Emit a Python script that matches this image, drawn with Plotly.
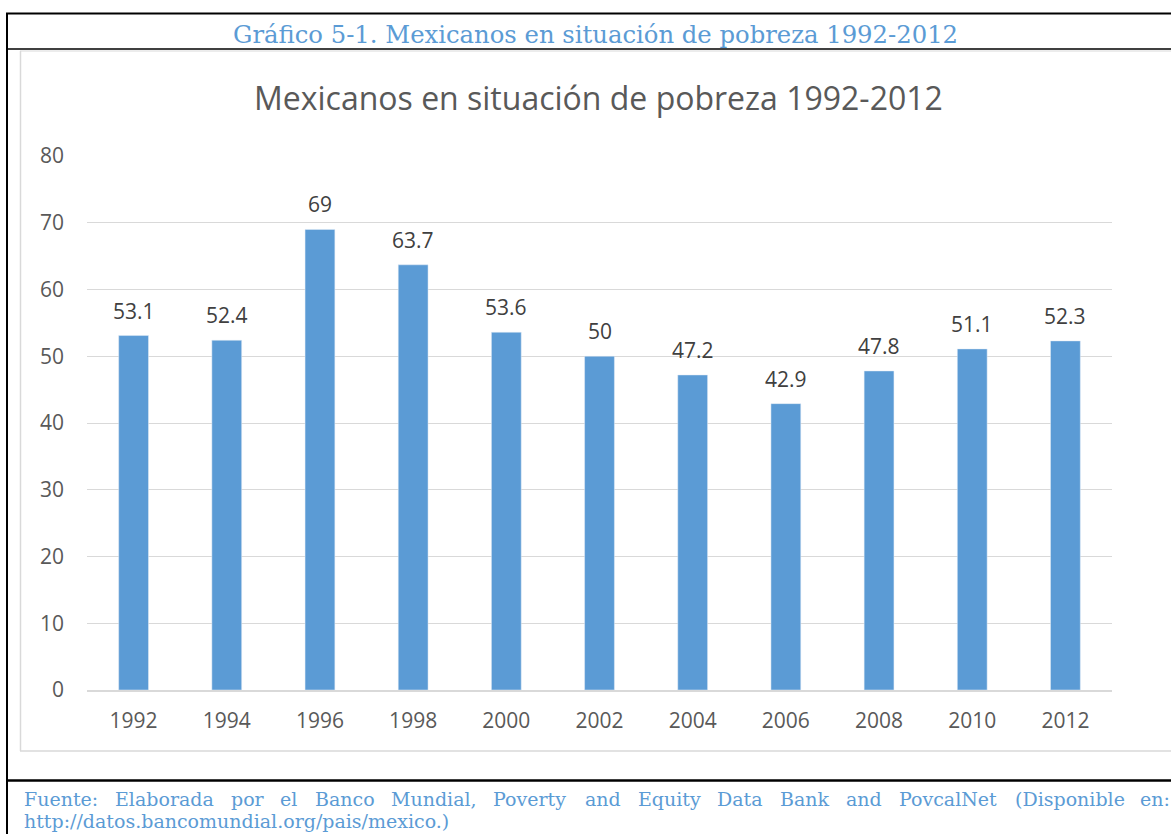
import plotly.graph_objects as go

# datos
anios = ["1992", "1994", "1996", "1998", "2000", "2002", "2004", "2006", "2008", "2010", "2012"]
pobreza = [53.1, 52.4, 69, 63.7, 53.6, 50, 47.2, 42.9, 47.8, 51.1, 52.3]
etiquetas = ["53.1", "52.4", "69", "63.7", "53.6", "50", "47.2", "42.9", "47.8", "51.1", "52.3"]

titulo = "Mexicanos en situación de pobreza 1992-2012"
leyenda = "Gráfico 5-1. Mexicanos en situación de pobreza 1992-2012"
fuente_1 = ["Fuente:", "Elaborada", "por", "el", "Banco", "Mundial,", "Poverty", "and",
            "Equity", "Data", "Bank", "and", "PovcalNet", "(Disponible", "en:"]
fuente_2 = "http://datos.bancomundial.org/pais/mexico.)"

# justified first line of the source note: word start positions (page px)
fuente_1_x = [22, 113, 229, 278, 313, 389, 491, 583, 636, 715, 778, 844, 897, 1013, 1138]

W, H = 1171, 834
L, R, T, B = 87, 1112, 156, 690  # plot area, page pixels

def fx(px):
    return (px - L) / (R - L)

def fy(py):
    return (B - py) / (B - T)

azul = "#5B9BD5"
gris = "#D9D9D9"

fig = go.Figure()
fig.add_trace(go.Bar(x=anios, y=pobreza, marker_color=azul, hoverinfo="x+y"))

anns = []
for i, (v, t) in enumerate(zip(pobreza, etiquetas)):
    anns.append(dict(x=i, y=v, text=t, showarrow=False, yanchor="bottom", yshift=9,
                     font=dict(family="Open Sans", size=21, color="#404040")))

anns.append(dict(xref="paper", yref="paper", x=fx(595), y=fy(34), text=leyenda,
                 showarrow=False, xanchor="center", yanchor="middle",
                 font=dict(family="DejaVu Serif", size=24.3, color=azul)))
anns.append(dict(xref="paper", yref="paper", x=fx(598), y=fy(97), text=titulo,
                 showarrow=False, xanchor="center", yanchor="middle",
                 font=dict(family="Open Sans", size=32, color="#595959")))
for w, x in zip(fuente_1, fuente_1_x):
    anns.append(dict(xref="paper", yref="paper", x=fx(x), y=fy(799), text=w,
                     showarrow=False, xanchor="left", yanchor="middle",
                     font=dict(family="DejaVu Serif", size=19, color=azul)))
anns.append(dict(xref="paper", yref="paper", x=fx(22), y=fy(821), text=fuente_2,
                 showarrow=False, xanchor="left", yanchor="middle",
                 font=dict(family="DejaVu Serif", size=19, color=azul)))

shapes = [
    # marco exterior
    dict(type="line", xref="paper", yref="paper", x0=fx(6), x1=fx(W + 5), y0=fy(13.5), y1=fy(13.5),
         line=dict(color="black", width=2)),
    dict(type="line", xref="paper", yref="paper", x0=fx(7), x1=fx(7), y0=fy(13), y1=fy(H + 5),
         line=dict(color="black", width=2)),
    dict(type="line", xref="paper", yref="paper", x0=fx(7), x1=fx(W + 5), y0=fy(49), y1=fy(49),
         line=dict(color="black", width=1.5)),
    dict(type="line", xref="paper", yref="paper", x0=fx(7), x1=fx(W + 5), y0=fy(780.5), y1=fy(780.5),
         line=dict(color="black", width=2.5)),
    # caja del gráfico
    dict(type="line", xref="paper", yref="paper", x0=fx(20.5), x1=fx(20.5), y0=fy(51), y1=fy(751),
         line=dict(color=gris, width=1.5)),
    dict(type="line", xref="paper", yref="paper", x0=fx(20), x1=fx(W + 5), y0=fy(751), y1=fy(751),
         line=dict(color=gris, width=1.5)),
    dict(type="line", xref="paper", yref="paper", x0=fx(20), x1=fx(W + 5), y0=fy(51), y1=fy(51),
         line=dict(color=gris, width=1)),
]

fig.update_layout(
    width=W, height=H,
    margin=dict(l=L, r=W - R, t=T, b=H - B),
    paper_bgcolor="white", plot_bgcolor="white",
    showlegend=False,
    bargap=0.68,
    annotations=anns,
    shapes=shapes,
    font=dict(family="Open Sans", size=21, color="#595959"),
    xaxis=dict(type="category", range=[-0.5, 10.5], showline=True, linecolor=gris, linewidth=1.5,
               ticks="", ticklabelstandoff=11, showgrid=False),
    yaxis=dict(range=[0, 80], dtick=10, showgrid=True, gridcolor=gris, gridwidth=1.2,
               zeroline=False, ticks="", ticklabelstandoff=22),
)

# the page body has a default 8px margin; drop it so the figure fills the window
fig.write_html("out.html", config={"displayModeBar": False},
               post_script="document.body.style.margin='0';document.body.style.overflow='hidden';")
